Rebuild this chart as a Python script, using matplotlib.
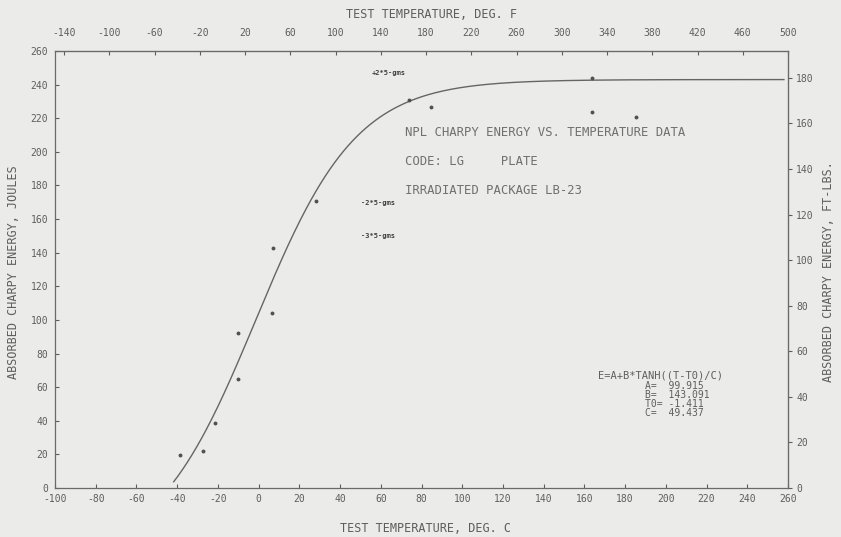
import numpy as np
import matplotlib
matplotlib.use("Agg")
import matplotlib.pyplot as plt

# test temperatures (deg C) and absorbed energy (J)
temps_c = [-38.7, -27.5, -21.6, -10.3, -10.3, 6.4, 6.9, 28.4, 74.0, 84.8, 163.7, 163.7, 185.3]
energy_j = [19.7, 22.1, 38.8, 65.0, 92.4, 104.4, 143.0, 171.0, 230.8, 226.6, 243.9, 223.6, 220.6]

# tanh fit  E = A + B*tanh((T - T0)/C)
A, B, T0, C = 99.915, 143.091, -1.411, 49.437
fit_range = (-41.7, 258.0)

x_ticks = list(range(-100, 261, 20))
y_ticks = list(range(0, 261, 20))
f_ticks = list(range(-140, 501, 40))
ftlb_ticks = list(range(0, 181, 20))

notes = [("+2*5-gms", 372, 73), ("-2*5-gms", 361, 203), ("-3*5-gms", 361, 236)]
header = ["NPL CHARPY ENERGY VS. TEMPERATURE DATA",
          "CODE: LG     PLATE",
          "IRRADIATED PACKAGE LB-23"]

ink = "#5e5e5e"
paper = "#ebebe9"
mono = "DejaVu Sans Mono"

W, H = 841, 537
fig = plt.figure(figsize=(W / 100, H / 100), dpi=100, facecolor=paper)
ax = fig.add_axes([55 / W, 1 - 488 / H, (788 - 55) / W, (488 - 51) / H])
ax.set_facecolor(paper)

t = np.linspace(fit_range[0], fit_range[1], 400)
ax.plot(t, A + B * np.tanh((t - T0) / C), color="#575757", lw=1.0, alpha=0.9)
ax.plot(temps_c, energy_j, "o", ms=2.8, color="#505050", mec="none")

ax.set_xlim(-100, 260)
ax.set_ylim(0, 260)
ax.set_xticks(x_ticks)
ax.set_yticks(y_ticks)
ax.set_xticklabels([str(v) for v in x_ticks], family=mono, fontsize=7, color=ink)
ax.set_yticklabels([str(v) for v in y_ticks], family=mono, fontsize=7, color=ink)
ax.tick_params(axis="both", direction="in", length=3, width=0.8, color=ink)
ax.tick_params(axis="x", pad=4)
ax.tick_params(axis="y", pad=5)
for s in ax.spines.values():
    s.set_color("#6a6a6a")
    s.set_linewidth(0.9)

# Fahrenheit scale on top
top = ax.secondary_xaxis("top", functions=(lambda c: c * 9 / 5 + 32, lambda f: (f - 32) * 5 / 9))
top.set_xticks(f_ticks)
top.set_xticklabels([str(v) for v in f_ticks], family=mono, fontsize=7, color=ink)
top.tick_params(direction="in", length=3, width=0.8, color=ink, pad=9.5)
top.spines["top"].set_color("#6a6a6a")

# ft-lb scale on right
right = ax.secondary_yaxis("right", functions=(lambda j: j / 1.3558, lambda f: f * 1.3558))
right.set_yticks(ftlb_ticks)
right.set_yticklabels([str(v) for v in ftlb_ticks], family=mono, fontsize=7, color=ink)
right.tick_params(direction="out", length=3, width=0.8, color=ink, pad=3)
right.spines["right"].set_color("#6a6a6a")

fig.text(431 / W, 1 - 15 / H, "TEST TEMPERATURE, DEG. F", family=mono, fontsize=8.5,
         color=ink, ha="center", va="center")
fig.text(426 / W, 1 - 528 / H, "TEST TEMPERATURE, DEG. C", family=mono, fontsize=8.5,
         color=ink, ha="center", va="center")
fig.text(14 / W, 1 - 272 / H, "ABSORBED CHARPY ENERGY, JOULES", family=mono, fontsize=8.5,
         color=ink, ha="center", va="center", rotation=90)
fig.text(828 / W, 1 - 272 / H, "ABSORBED CHARPY ENERGY, FT-LBS.", family=mono, fontsize=8.5,
         color=ink, ha="center", va="center", rotation=90)

for i, line in enumerate(header):
    fig.text(405 / W, 1 - (133 + 28.5 * i) / H, line, family=mono, fontsize=8.8,
             color="#707070", ha="left", va="center")

for s, x, y in notes:
    fig.text(x / W, 1 - y / H, s, family=mono, fontsize=5, color="#404040",
             ha="left", va="center", weight="bold")

fit_lines = ["E=A+B*TANH((T-T0)/C)",
             "A=  %.3f" % A,
             "B=  %.3f" % B,
             "T0= %.3f" % T0,
             "C=  %.3f" % C]
fig.text(598 / W, 1 - 375 / H, fit_lines[0], family=mono, fontsize=7.5, color=ink,
         ha="left", va="center")
for i, line in enumerate(fit_lines[1:]):
    fig.text(645 / W, 1 - (386 + 9 * i) / H, line, family=mono, fontsize=7,
             color=ink, ha="left", va="center")

fig.savefig("out.png", dpi=100, facecolor=paper)
